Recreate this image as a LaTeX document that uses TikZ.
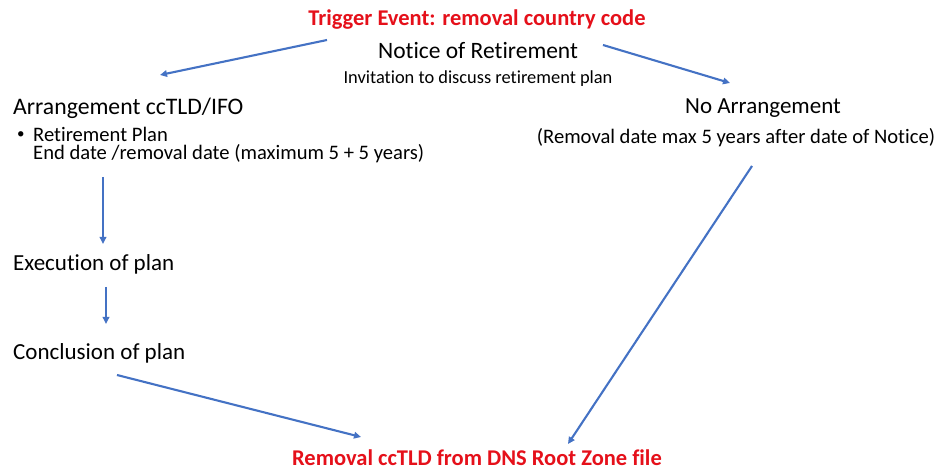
\documentclass[tikz,border=0pt]{standalone}
\usepackage{fontspec}
\setmainfont{Carlito}[Ligatures=NoCommon]
\usetikzlibrary{arrows.meta}
\definecolor{arrowblue}{HTML}{4472C4}
\definecolor{redtxt}{HTML}{E5101A}
\tikzset{
  txt/.style={inner sep=0pt, anchor=west, text=black},
  bigtxt/.style={txt, font=\fontsize{23}{27}\selectfont},
  midtxt/.style={txt, font=\fontsize{20.6}{23}\selectfont},
  smalltxt/.style={txt, font=\fontsize{18.4}{21}\selectfont},
  redtitle/.style={inner sep=0pt, anchor=base, text=redtxt, font=\fontsize{22.5}{26}\selectfont\bfseries},
  conn/.style={draw=arrowblue, line width=2.1pt, -{Triangle[length=7pt,width=6.5pt]}}
}
\begin{document}
\begin{tikzpicture}[x=1pt,y=-1pt]
\useasboundingbox (0,0) rectangle (938,470);
\node[redtitle] (trigger) at (477,25.5) {Trigger Event: removal country code};
\node[bigtxt, anchor=center, font=\fontsize{23.5}{27}\selectfont] (notice) at (478,51) {Notice of Retirement};
\node[smalltxt, anchor=center] (invite) at (478,79) {Invitation to discuss retirement plan};
\node[bigtxt, font=\fontsize{23.7}{27}\selectfont] (arr) at (13,108.5) {Arrangement ccTLD/IFO};
\node[midtxt, font=\fontsize{15}{18}\selectfont] (bullet) at (17,135) {•};
\node[midtxt, anchor=north west, align=left, font=\fontsize{20.6}{17.8}\selectfont] (plan) at (33,127) {Retirement Plan\\End date /removal date (maximum 5 + 5 years)};
\node[bigtxt, anchor=center] (noarr) at (763,108.5) {No Arrangement};
\node[midtxt, anchor=center] (noarrsub) at (736,138) {(Removal date max 5 years after date of Notice)};
\node[bigtxt] (exec) at (13,264) {Execution of plan};
\node[bigtxt] (concl) at (13,353) {Conclusion of plan};
\node[redtitle] (removal) at (477,466) {Removal ccTLD from DNS Root Zone file};
\coordinate (a1s) at (327,40);  \coordinate (a1e) at (160,75);
\coordinate (a2s) at (603,45);  \coordinate (a2e) at (730,83);
\coordinate (a3s) at (103,177); \coordinate (a3e) at (103,244);
\coordinate (a4s) at (106,287); \coordinate (a4e) at (106,324);
\coordinate (a5s) at (117,375); \coordinate (a5e) at (361,437);
\coordinate (a6s) at (752,166); \coordinate (a6e) at (568,444);
\draw[conn] (a1s) -- (a1e);
\draw[conn] (a2s) -- (a2e);
\draw[conn] (a3s) -- (a3e);
\draw[conn] (a4s) -- (a4e);
\draw[conn] (a5s) -- (a5e);
\draw[conn] (a6s) -- (a6e);
\end{tikzpicture}
\end{document}
